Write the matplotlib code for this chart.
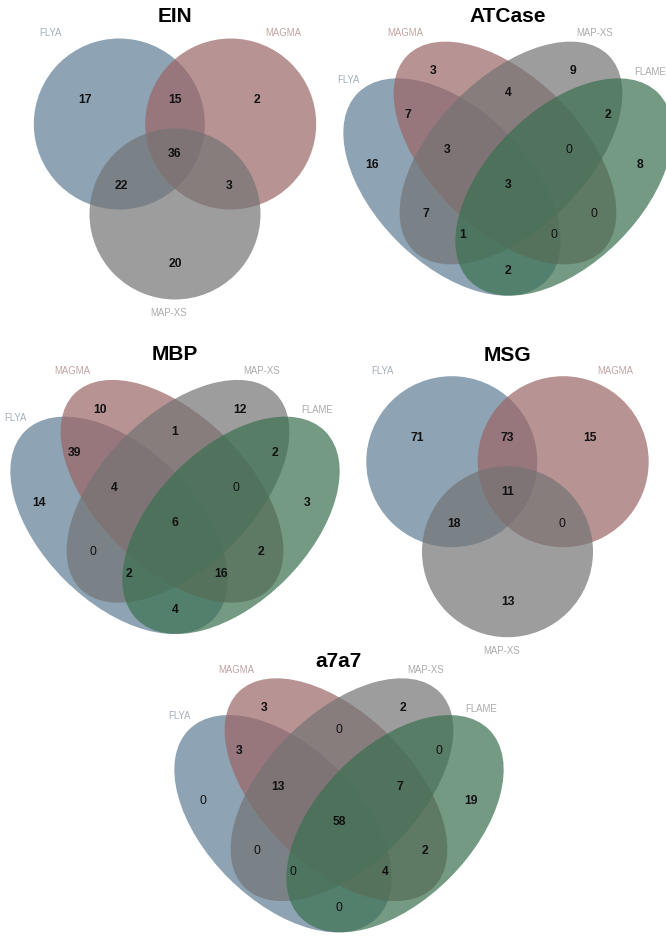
import matplotlib.pyplot as plt
from matplotlib.patches import Ellipse, Circle

plt.rcParams['font.family'] = ['Liberation Sans', 'DejaVu Sans']

# ---- data ----
sets3 = ["FLYA", "MAGMA", "MAP-XS"]
sets4 = ["FLYA", "MAGMA", "MAP-XS", "FLAME"]

# 3-set regions: FLYA, FLYA&MAGMA, MAGMA, all, FLYA&MAP, MAGMA&MAP, MAP
ein = [17, 15, 2, 36, 22, 3, 20]
msg = [71, 73, 15, 11, 18, 0, 13]

# 4-set regions: MAGMA, MAP, MAGMA&MAP, FLYA&MAGMA, MAP&FLAME, FLYA, FLAME,
# FLYA&MAGMA&MAP, MAGMA&MAP&FLAME, all, FLYA&MAP, MAGMA&FLAME,
# FLYA&MAP&FLAME, FLYA&MAGMA&FLAME, FLYA&FLAME
atcase = [3, 9, 4, 7, 2, 16, 8, 3, 0, 3, 7, 0, 1, 0, 2]
mbp = [10, 12, 1, 39, 2, 14, 3, 4, 0, 6, 0, 2, 2, 16, 4]
a7a7 = [3, 2, 0, 3, 0, 0, 19, 13, 7, 58, 0, 2, 0, 4, 0]

# ---- style / layout (pixels, relative to the centre count) ----
fills = ["#5f7c94", "#9b6565", "#747474", "#3a7050"]
cat_cols = ["#a5afba", "#c2a3a3", "#ababab", "#ababab"]
ALPHA = 0.7

pos3 = [(-90, -54), (0, -54), (82, -54), (0, 0), (-53.5, 32), (54, 32), (0, 110.5)]
circ3 = [(-55.7, -29), (55.7, -29), (0, 61)]
R3 = 85.5
cat3 = [(-124.7, -121), (108, -121), (-6, 159.5)]

pos4 = [(-75, -113.5), (64.5, -113.5), (0, -91.5), (-100, -70.5), (100, -70.5),
        (-136, -20.5), (131.7, -20.5), (-60.7, -35), (60.7, -35), (0, 0),
        (-81.7, 29), (86, 29), (-45.7, 50.5), (46.3, 50.5), (0, 86.3)]
ell4 = [(-56, 3, 266, 154, 45), (-3, -31, 276, 152, 45),
        (3, -31, 276, 152, -45), (56, 3, 266, 154, -45)]
cat4 = [(-160, -105.3), (-103.2, -152), (86.3, -152), (141.7, -112.8)]

panels = [
    ("EIN", ein, (175, 154), -138),
    ("ATCase", atcase, (508, 185), -169),
    ("MBP", mbp, (175, 523.3), -168.3),
    ("MSG", msg, (507.5, 491.7), -136),
    ("a7a7", a7a7, (339, 821.7), -160),
]

fig = plt.figure(figsize=(6.66, 9.37), dpi=100)
ax = fig.add_axes([0, 0, 1, 1])
ax.set_xlim(0, 666)
ax.set_ylim(937, 0)
ax.axis('off')

for title, counts, (cx, cy), tdy in panels:
    if len(counts) == 7:
        for i, (dx, dy) in enumerate(circ3):
            ax.add_patch(Circle((cx + dx, cy + dy), R3, fc=fills[i], ec='none', alpha=ALPHA))
        pos, cats, names = pos3, cat3, sets3
    else:
        for i, (dx, dy, w, h, ang) in enumerate(ell4):
            ax.add_patch(Ellipse((cx + dx, cy + dy), w, h, angle=ang,
                                 fc=fills[i], ec='none', alpha=ALPHA))
        pos, cats, names = pos4, cat4, sets4
    for (dx, dy), v in zip(pos, counts):
        ax.text(cx + dx, cy + dy, str(v), ha='center', va='center', fontsize=8.7,
                fontweight='bold' if v else 'normal', color='#111111')
    for i, ((dx, dy), name) in enumerate(zip(cats, names)):
        ax.text(cx + dx, cy + dy, name, ha='center', va='center', fontsize=6.9,
                color=cat_cols[i])
    ax.text(cx, cy + tdy, title, ha='center', va='center', fontsize=15,
            fontweight='bold', color='black')

fig.savefig("out.png", dpi=100)
